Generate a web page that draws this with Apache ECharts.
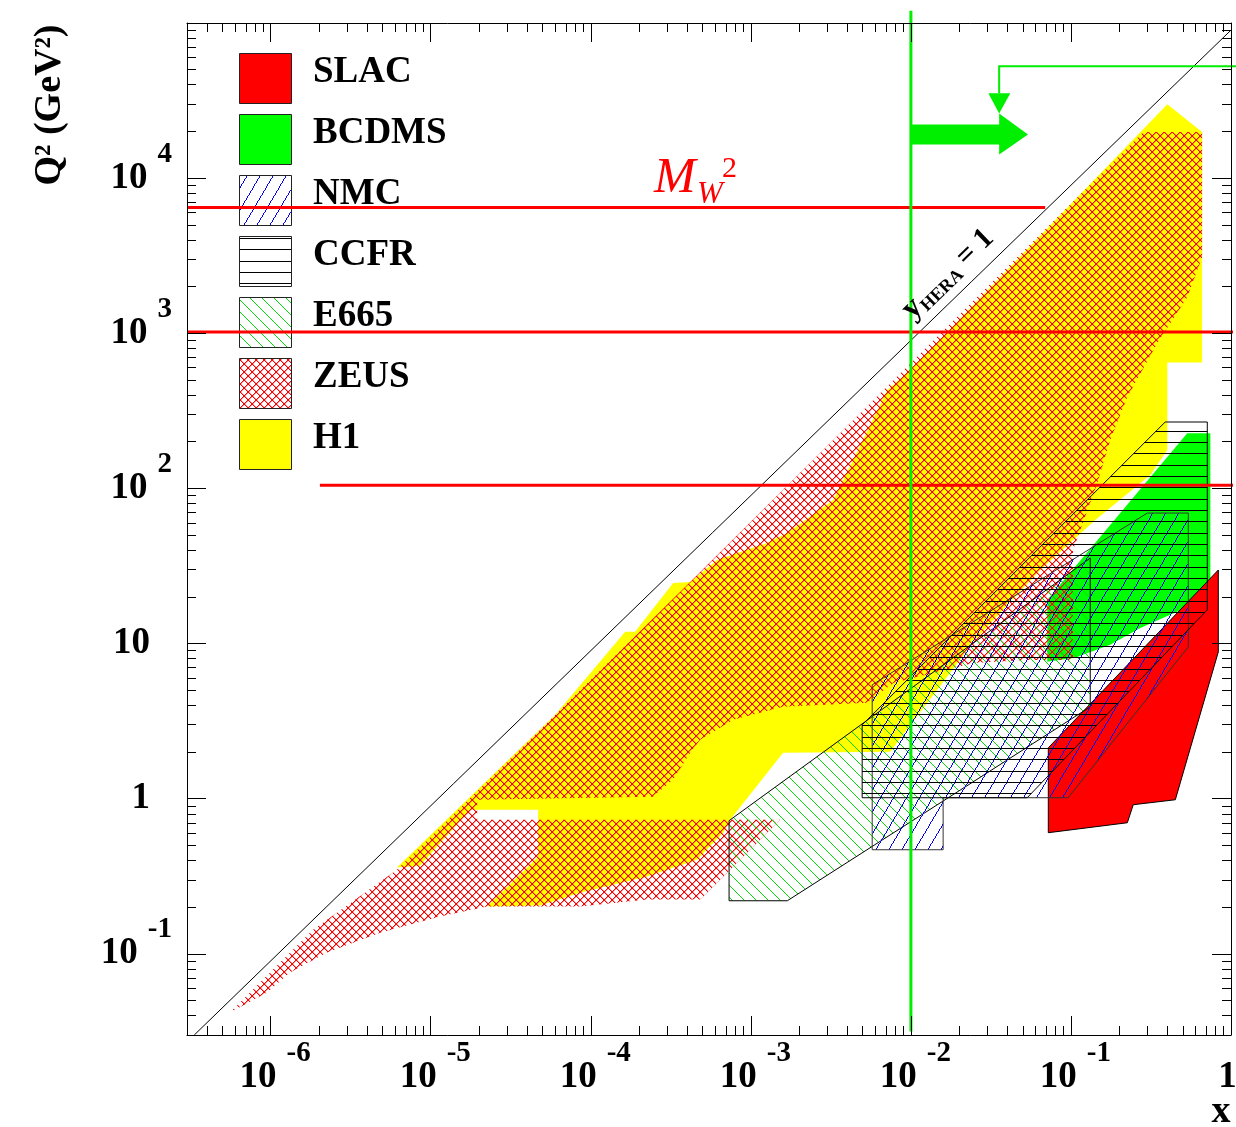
<!DOCTYPE html>
<html>
<head>
<meta charset="utf-8">
<title>Q2 vs x kinematic plane</title>
<script src="https://cdn.jsdelivr.net/npm/echarts@6.0.0/dist/echarts.min.js"></script>
<style>
html,body{margin:0;padding:0;background:#ffffff;}
#chart{width:1236px;height:1127px;}
</style>
</head>
<body>
<div id="chart"></div>
<script>
// ===== axis ranges & ticks =====
const X_RANGE = [3e-7, 1];
const Q2_RANGE = [0.03, 1e5];
const X_MAJOR = [1e-6, 1e-5, 1e-4, 1e-3, 1e-2, 1e-1, 1];
const X_LABEL_BASE = ['10', '10', '10', '10', '10', '10', '1'];
const X_LABEL_EXP = ['-6', '-5', '-4', '-3', '-2', '-1', ''];
const Y_MAJOR = [0.1, 1, 10, 100, 1000, 10000];
const Y_LABEL_BASE = ['10', '1', '10', '10', '10', '10'];
const Y_LABEL_EXP = ['-1', '', '', '2', '3', '4'];
const MINOR_STEPS = [2, 3, 4, 5, 6, 7, 8, 9];
const X_DECADES = [1e-7, 1e-6, 1e-5, 1e-4, 1e-3, 1e-2, 1e-1];
const Y_DECADES = [1e-2, 1e-1, 1, 10, 100, 1000, 10000];

// ===== experiment regions: polygon vertices (x, Q2 in GeV^2) =====
const H1_X = [0.40, 0.66, 0.66, 0.40, 0.40, 0.313, 0.142, 0.0643, 0.0252, 0.00743, 0.00159, 0.000743, 0.000671, 0.000461, 0.000225, 8.57e-5, 4.82e-5, 2.25e-5, 4.69e-5, 4.69e-5, 1.76e-5, 8.57e-6, 6.15e-6, 5.98e-5, 0.000164, 0.000189, 0.000327, 0.000418, 0.000615, 0.00126, 0.00169, 0.00327, 0.00435, 0.00711, 0.01033];
const H1_Q2 = [29900, 19800, 649, 649, 177, 122, 62.6, 29.8, 10.6, 2.01, 1.98, 0.733, 0.604, 0.405, 0.315, 0.248, 0.205, 0.202, 0.423, 0.85, 0.85, 0.37, 0.36, 3.47, 11.9, 11.9, 24.6, 24.9, 34.6, 44.5, 51.6, 84.2, 152, 430, 605];

const ZEUS_X = [0.283, 0.66, 0.66, 0.533, 0.346, 0.225, 0.176, 0.146, 0.103, 0.103, 0.0533, 0.0245, 0.0109, 0.00775, 0.00533, 0.00159, 0.000775, 0.000482, 0.000418, 0.000327, 0.000245, 1.95e-5, 1.95e-5, 0.00152, 0.000482, 0.000225, 8.57e-5, 2.25e-5, 1.14e-5, 4.82e-6, 2.25e-6, 1.32e-6, 9.49e-7, 5.57e-7, 1.84e-6, 6.15e-6, 5.98e-5, 0.000418];
const ZEUS_Q2 = [19800, 19800, 3090, 1708, 864, 388, 205, 108, 40.1, 7.85, 7.85, 7.51, 6.10, 5.58, 4.15, 3.91, 3.23, 2.40, 1.98, 1.33, 1.03, 0.985, 0.733, 0.733, 0.224, 0.224, 0.202, 0.202, 0.174, 0.137, 0.102, 0.0758, 0.0563, 0.0419, 0.143, 0.349, 3.47, 24.9];

const BCDMS_X = [0.533, 0.743, 0.743, 0.271, 0.176, 0.106, 0.0711, 0.0711];
const BCDMS_Q2 = [227, 227, 20.0, 12.6, 9.82, 8.09, 7.63, 19.1];

const SLAC_X = [0.0722, 0.833, 0.833, 0.449, 0.245, 0.225, 0.0722];
const SLAC_Q2 = [2.13, 29.8, 8.84, 0.985, 0.915, 0.70, 0.604];

const NMC_X = [0.00573, 0.300, 0.541, 0.541, 0.096, 0.0159, 0.0159, 0.00573];
const NMC_Q2 = [5.42, 69.4, 69.4, 9.52, 1.015, 1.015, 0.469, 0.469];

const CCFR_X = [0.00496, 0.388, 0.711, 0.711, 0.0533, 0.00496];
const CCFR_Q2 = [2.99, 268, 268, 16.5, 1.015, 1.015];

const E665_X = [0.000731, 0.000731, 0.00169, 0.132, 0.132];
const E665_Q2 = [0.722, 0.220, 0.220, 3.91, 35.6];

// ===== reference lines =====
const KIN_X = [3.33e-7, 1];          // y_HERA = 1
const KIN_Q2 = [0.03, 90000];
const MW2 = 6460;                    // M_W^2
const MW2_X = [3e-7, 0.069];
const Q2_CUT_HIGH = 1020;
const CUT_HIGH_X = [3e-7, 1.08];
const Q2_CUT_LOW = 105;
const CUT_LOW_X = [2.03e-6, 1.08];
const X_GREEN = 0.01;
const GREEN_Q2 = [0.0316, 1.2e5];
const ARROW_X = [0.01, 0.0356, 0.0356, 0.0539, 0.0356, 0.0356, 0.01];
const ARROW_Q2 = [22200, 22200, 26100, 19100, 14200, 16500, 16500];
const GUIDE_X = [1.08, 0.0356, 0.0356];
const GUIDE_Q2 = [52700, 52700, 35200];
const GUIDE_HEAD_X = [0.0305, 0.0418, 0.0356];
const GUIDE_HEAD_Q2 = [35200, 35200, 26100];

// ===== helpers =====
const FONT = '"Liberation Serif", "Times New Roman", serif';
const X_MINOR = [];
X_DECADES.forEach(d => MINOR_STEPS.forEach(k => { const v = k * d; if (v >= X_RANGE[0] * 0.999 && v <= X_RANGE[1]) X_MINOR.push(v); }));
const Y_MINOR = [];
Y_DECADES.forEach(d => MINOR_STEPS.forEach(k => { const v = k * d; if (v >= Q2_RANGE[0] * 0.999 && v <= Q2_RANGE[1]) Y_MINOR.push(v); }));

// pixel-exact hatch tiles
function pixelTile(w, h, color, pixFn, soft) {
  const c = document.createElement('canvas');
  c.width = w; c.height = h;
  const g = c.getContext('2d');
  const put = (col) => (x, y) => { g.fillStyle = col; g.fillRect(((x % w) + w) % w, ((y % h) + h) % h, 1, 1); };
  pixFn(put(color), w, h, soft ? put(soft) : null);
  return { image: c, repeat: 'repeat' };
}
const PAT_ZEUS = pixelTile(8, 8, '#ff0000', (p, w, h, q) => {
  for (let i = 0; i < w; i++) { q(i + 1, i); q(i + 1, w - 1 - i); }
  for (let i = 0; i < w; i++) { p(i, i); p(i, w - 1 - i); }
}, 'rgba(255,0,0,0.4)');
const PAT_NMC = pixelTile(13, 22, '#0000ff', (p, w, h) => { for (let y = 0; y < h; y++) p(Math.floor((h - 0.5 - y) * w / h), y); });
const PAT_E665 = pixelTile(12, 12, '#00e000', (p, w) => { for (let i = 0; i < w; i++) p(i, i); });
const PAT_CCFR = pixelTile(8, 34, '#000000', (p, w) => { for (let x = 0; x < w; x++) { p(x, 0); p(x, 11); p(x, 23); } });

function findIdx(arr, v) {
  return arr.findIndex(a => Math.abs(Math.log10(a) - Math.log10(v)) < 1e-6);
}

function polySeries(name, xs, qs, style, z) {
  return {
    type: 'custom', name, xAxisIndex: 0, yAxisIndex: 0, silent: true, clip: false, z,
    data: xs.map((x, i) => [x, qs[i]]),
    renderItem(params, api) {
      if (params.dataIndex !== 0) return null;
      const pts = xs.map((x, i) => api.coord([x, qs[i]]));
      return { type: 'polygon', shape: { points: pts }, style };
    }
  };
}
function polylineSeries(name, xs, qs, style, z) {
  return {
    type: 'custom', name, xAxisIndex: 0, yAxisIndex: 0, silent: true, clip: false, z,
    data: xs.map((x, i) => [x, qs[i]]),
    renderItem(params, api) {
      if (params.dataIndex !== 0) return null;
      const pts = xs.map((x, i) => api.coord([x, qs[i]]));
      return { type: 'polyline', shape: { points: pts }, style };
    }
  };
}
function lineSeries(name, pts, color, width, z) {
  return {
    type: 'line', name, xAxisIndex: 0, yAxisIndex: 0, data: pts, symbol: 'none', showSymbol: false,
    clip: false, silent: true, z, lineStyle: { color, width, cap: 'butt' }
  };
}

const LBL = { fontFamily: FONT, fontWeight: 'bold', color: '#000' };
const RICH_X = {
  b: Object.assign({}, LBL, { fontSize: 37, lineHeight: 77, padding: [0, 0, 0, 9] }),
  s: Object.assign({}, LBL, { fontSize: 29, lineHeight: 29, verticalAlign: 'top', padding: [0, 0, 0, 10] }),
  p: Object.assign({}, LBL, { fontSize: 37, lineHeight: 77, padding: [0, 7, 0, 0] })
};
const RICH_Y = {
  b: Object.assign({}, LBL, { fontSize: 37, lineHeight: 77 }),
  s: Object.assign({}, LBL, { fontSize: 29, lineHeight: 29, verticalAlign: 'top', padding: [0, 0, 0, 10] }),
  p: Object.assign({}, LBL, { fontSize: 37, lineHeight: 77, padding: [0, 22, 0, 0] })
};
function fmtX(v) {
  const i = findIdx(X_MAJOR, v);
  if (i < 0) return '';
  return X_LABEL_EXP[i] ? '{b|' + X_LABEL_BASE[i] + '}{s|' + X_LABEL_EXP[i] + '}' : '{p|' + X_LABEL_BASE[i] + '}';
}
function fmtY(v) {
  const i = findIdx(Y_MAJOR, v);
  if (i < 0) return '';
  return Y_LABEL_EXP[i] ? '{b|' + Y_LABEL_BASE[i] + '}{s|' + Y_LABEL_EXP[i] + '}' : '{p|' + Y_LABEL_BASE[i] + '}';
}

function logAxis(kind, position, ticks, len, showLine, label) {
  const range = kind === 'x' ? X_RANGE : Q2_RANGE;
  return {
    type: 'log', logBase: 10, gridIndex: 0, position, min: range[0], max: range[1], z: 20,
    axisLine: { show: showLine, onZero: false, lineStyle: { color: '#000', width: 1 } },
    axisTick: { show: true, inside: true, length: len, customValues: ticks, lineStyle: { color: '#000', width: 1 } },
    axisLabel: label ? label : { show: false },
    splitLine: { show: false }, minorTick: { show: false }, minorSplitLine: { show: false }
  };
}

const chart = echarts.init(document.getElementById('chart'), null, { renderer: 'canvas' });

const LEGEND = [
  { name: 'SLAC', fill: '#ff0000' },
  { name: 'BCDMS', fill: '#00ff00' },
  { name: 'NMC', fill: PAT_NMC },
  { name: 'CCFR', fill: PAT_CCFR },
  { name: 'E665', fill: PAT_E665 },
  { name: 'ZEUS', fill: PAT_ZEUS },
  { name: 'H1', fill: '#ffff00' }
];

const option = {
  animation: false,
  backgroundColor: '#ffffff',
  grid: { left: 187, right: 5, top: 23, bottom: 92, containLabel: false, outerBoundsMode: 'none' },
  xAxis: [
    logAxis('x', 'bottom', X_MAJOR, 19, true, {
      show: true, customValues: X_MAJOR, margin: 4, formatter: fmtX, rich: RICH_X
    }),
    logAxis('x', 'bottom', X_MINOR, 9, false, null),
    logAxis('x', 'top', X_MAJOR, 19, true, null),
    logAxis('x', 'top', X_MINOR, 9, false, null)
  ],
  yAxis: [
    logAxis('y', 'left', Y_MAJOR, 19, true, {
      show: true, customValues: Y_MAJOR, margin: 15, formatter: fmtY, rich: RICH_Y
    }),
    logAxis('y', 'left', Y_MINOR, 9, false, null),
    logAxis('y', 'right', Y_MAJOR, 19, true, null),
    logAxis('y', 'right', Y_MINOR, 9, false, null)
  ],
  series: [
    polySeries('H1', H1_X, H1_Q2, { fill: '#ffff00' }, 2),
    polySeries('BCDMS', BCDMS_X, BCDMS_Q2, { fill: '#00ff00' }, 3),
    polySeries('SLAC', SLAC_X, SLAC_Q2, { fill: '#ff0000', stroke: '#000', lineWidth: 1 }, 4),
    polySeries('ZEUS', ZEUS_X, ZEUS_Q2, { fill: PAT_ZEUS }, 5),
    polySeries('E665', E665_X, E665_Q2, { fill: PAT_E665, stroke: '#000', lineWidth: 1 }, 6),
    polySeries('NMC', NMC_X, NMC_Q2, { fill: PAT_NMC, stroke: '#333', lineWidth: 1 }, 7),
    polySeries('CCFR', CCFR_X, CCFR_Q2, { fill: PAT_CCFR, stroke: '#000', lineWidth: 1 }, 8),
    lineSeries('y=1', KIN_X.map((x, i) => [x, KIN_Q2[i]]), '#000', 1, 9),
    lineSeries('MW2', MW2_X.map(x => [x, MW2]), '#ff0000', 3, 10),
    lineSeries('Q2 1000', CUT_HIGH_X.map(x => [x, Q2_CUT_HIGH]), '#ff0000', 3, 10),
    lineSeries('Q2 100', CUT_LOW_X.map(x => [x, Q2_CUT_LOW]), '#ff0000', 3, 10),
    lineSeries('x=0.01', GREEN_Q2.map(q => [X_GREEN, q]), '#00ee00', 3, 11),
    polySeries('arrow', ARROW_X, ARROW_Q2, { fill: '#00ee00' }, 11),
    polylineSeries('guide', GUIDE_X, GUIDE_Q2, { stroke: '#00ee00', lineWidth: 2, fill: null }, 11),
    polySeries('guide head', GUIDE_HEAD_X, GUIDE_HEAD_Q2, { fill: '#00ee00' }, 11)
  ],
  graphic: [].concat(
    LEGEND.map((it, i) => ({
      type: 'rect', z: 1, silent: true,
      shape: { x: 239.5, y: 53.5 + 61 * i, width: 52, height: 50 },
      style: { fill: it.fill, stroke: '#222', lineWidth: 1 }
    })),
    LEGEND.map((it, i) => ({
      type: 'text', z: 1, silent: true, x: 313, y: 72 + 61 * i,
      style: { text: it.name, fontFamily: FONT, fontWeight: 'bold', fontSize: 37, fill: '#000', align: 'left', verticalAlign: 'middle' }
    })),
    [
      { type: 'text', z: 30, silent: true, x: 50, y: 105, rotation: Math.PI / 2,
        style: { text: 'Q² (GeV²)', fontFamily: FONT, fontWeight: 'bold', fontSize: 38, fill: '#000', align: 'center', verticalAlign: 'middle' } },
      { type: 'text', z: 30, silent: true, x: 1221, y: 1112,
        style: { text: 'x', fontFamily: FONT, fontWeight: 'bold', fontSize: 38, fill: '#000', align: 'center', verticalAlign: 'middle' } },
      { type: 'text', z: 30, silent: true, x: 654, y: 179,
        style: { text: 'M', fontFamily: FONT, fontStyle: 'italic', fontSize: 50, fill: '#ff0000', align: 'left', verticalAlign: 'middle' } },
      { type: 'text', z: 30, silent: true, x: 697, y: 195,
        style: { text: 'W', fontFamily: FONT, fontStyle: 'italic', fontSize: 31, fill: '#ff0000', align: 'left', verticalAlign: 'middle' } },
      { type: 'text', z: 30, silent: true, x: 722, y: 169,
        style: { text: '2', fontFamily: FONT, fontSize: 30, fill: '#ff0000', align: 'left', verticalAlign: 'middle' } },
      { type: 'text', z: 30, silent: true, x: 948, y: 274, rotation: 44 * Math.PI / 180,
        style: {
          text: '{y|y}{h|HERA}{t| = 1}', align: 'center', verticalAlign: 'middle',
          rich: {
            y: { fontFamily: FONT, fontWeight: 'bold', fontSize: 32, lineHeight: 34, fill: '#000' },
            h: { fontFamily: FONT, fontWeight: 'bold', fontSize: 18, lineHeight: 18, verticalAlign: 'bottom', fill: '#000' },
            t: { fontFamily: FONT, fontWeight: 'bold', fontSize: 30, lineHeight: 34, fill: '#000' }
          }
        } }
    ]
  )
};
chart.setOption(option);
</script>
</body>
</html>
